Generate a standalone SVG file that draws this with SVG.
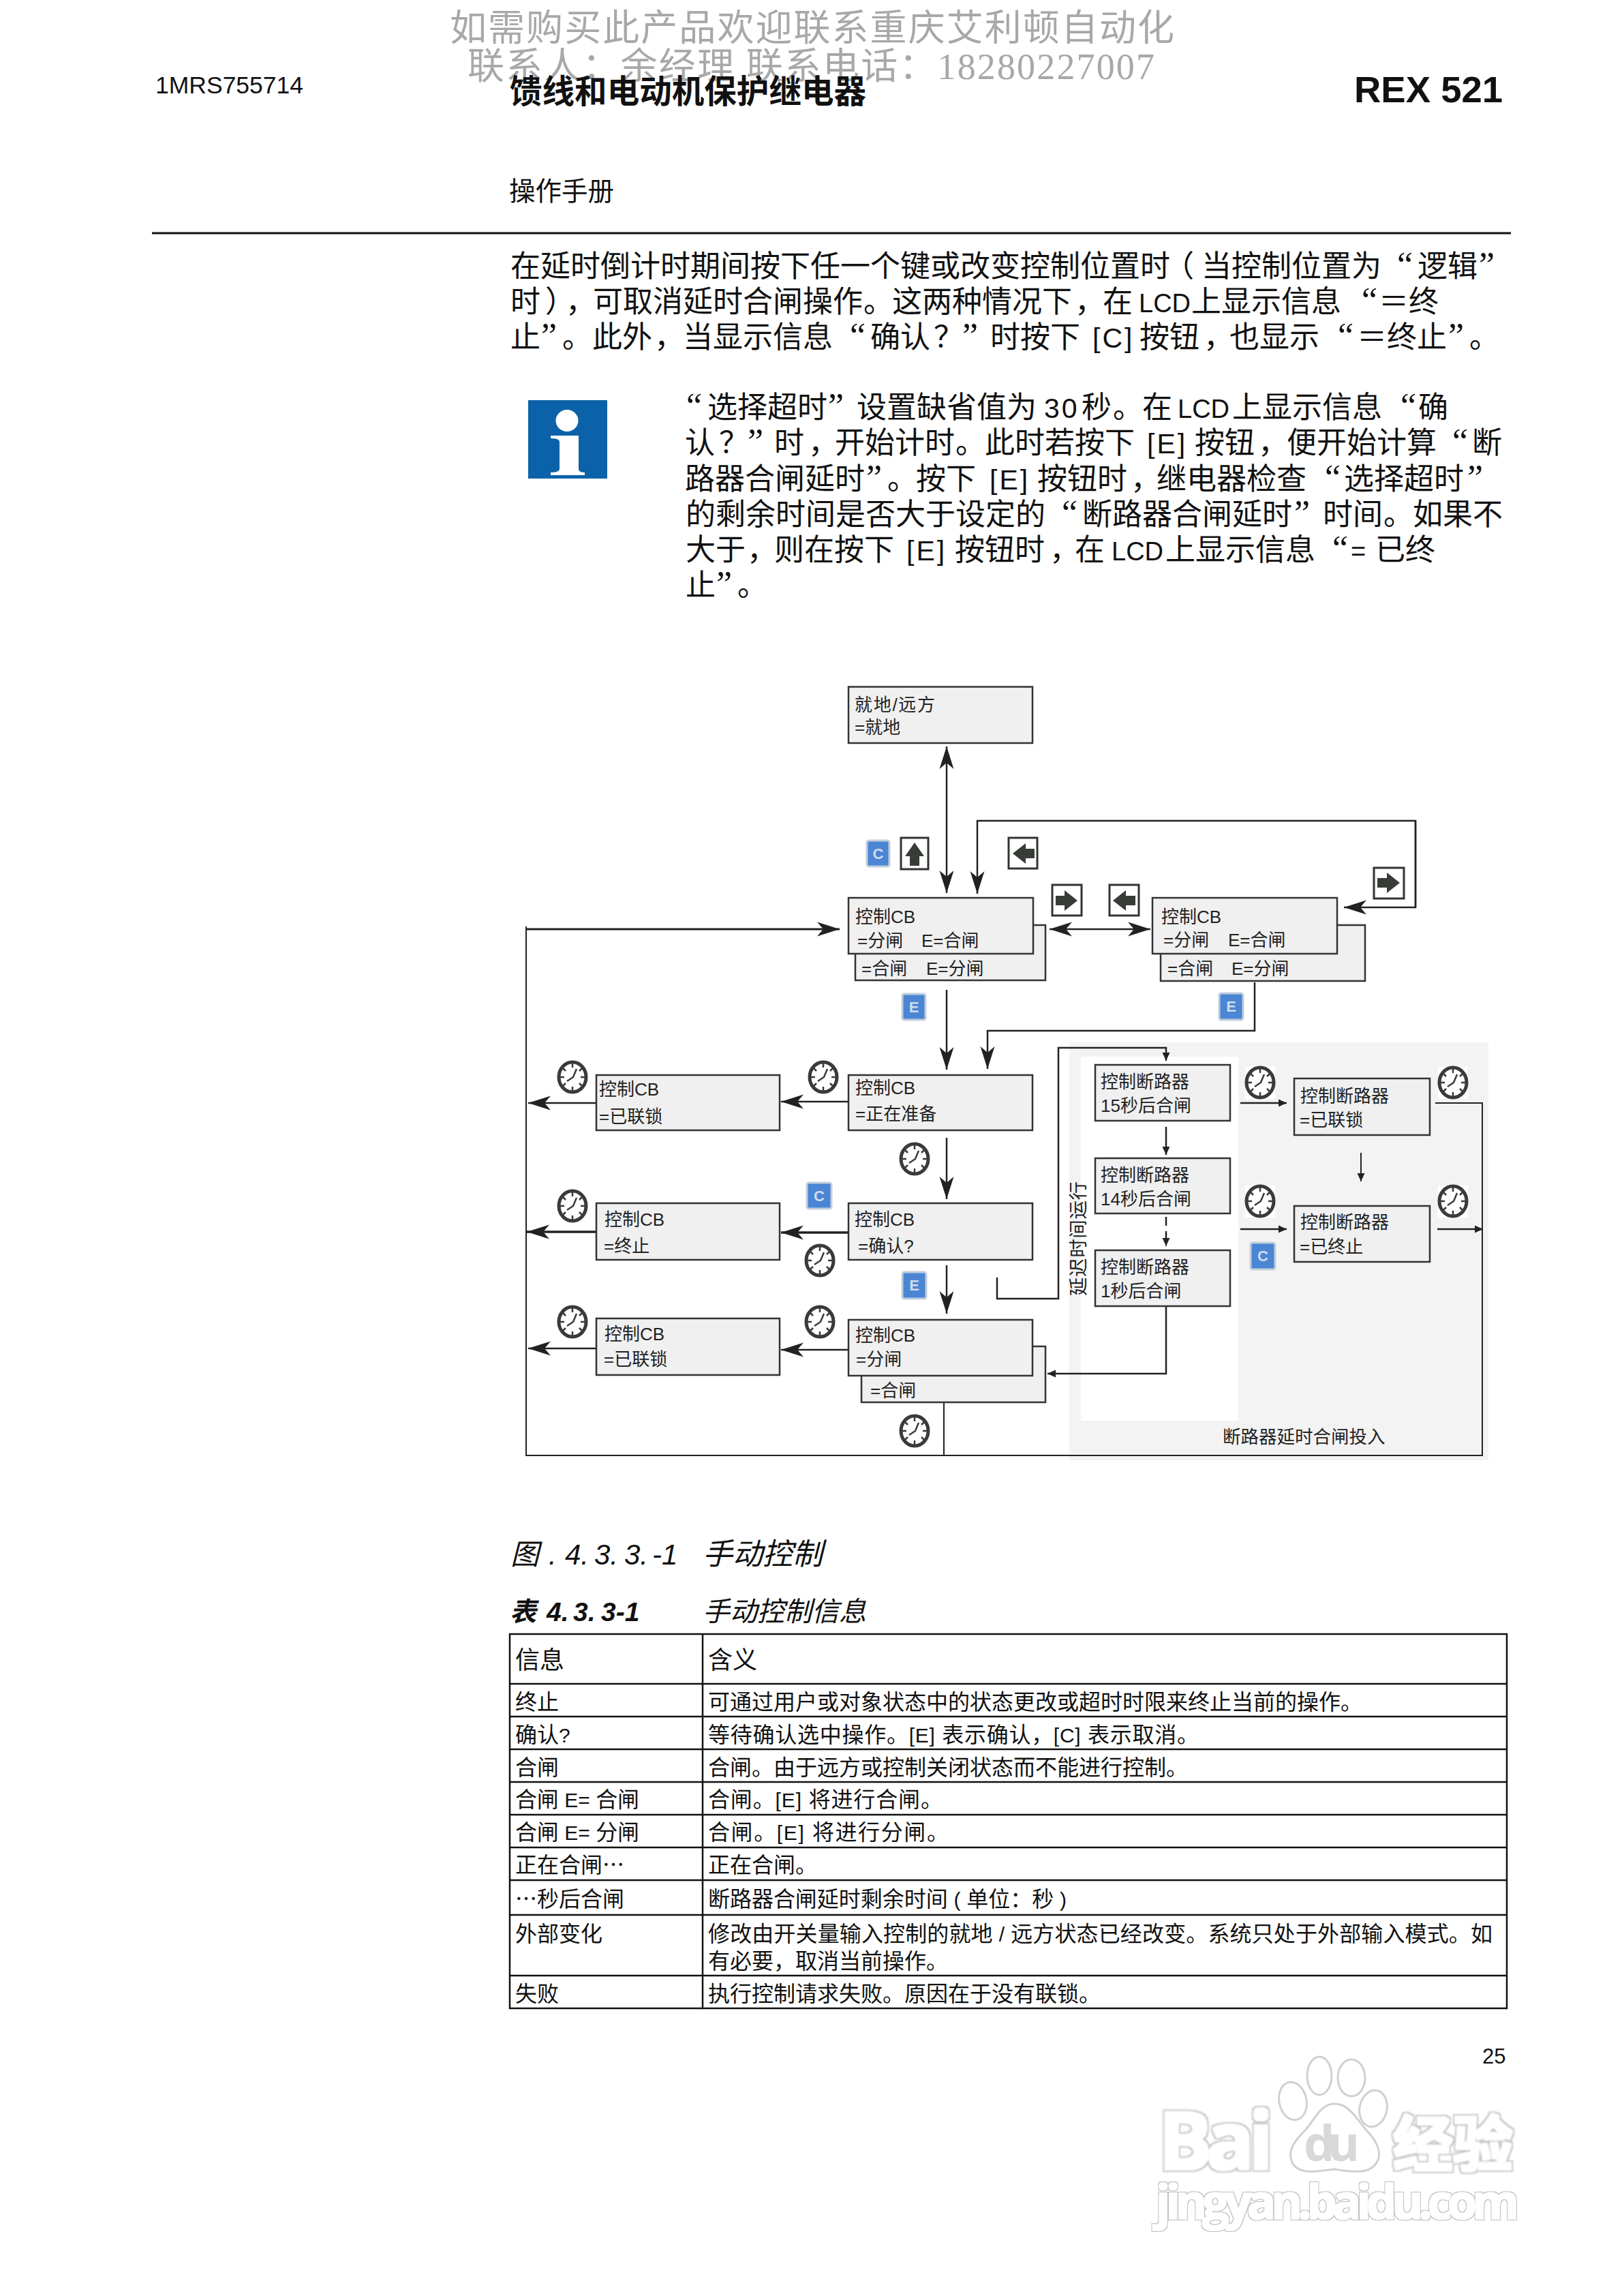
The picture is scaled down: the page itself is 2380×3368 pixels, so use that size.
<svg xmlns="http://www.w3.org/2000/svg" width="2380" height="3368" viewBox="0 0 2380 3368">
<style>
text{font-family:"Liberation Sans","Noto Sans CJK SC",sans-serif;fill:#111}
.wm{font-family:"Liberation Serif","Noto Sans CJK SC",serif;font-size:54px;fill:#a8a8a8}
.b{font-size:44px}
.b .q{font-family:"Liberation Serif",serif;font-size:52px}
.b .l{font-family:"Liberation Sans Narrow","Liberation Sans",sans-serif;font-size:38px}
.b .lb{font-family:"Liberation Sans Narrow","Liberation Sans",sans-serif;font-size:41px;letter-spacing:3px}
.b .p{font-feature-settings:"halt"}
.b .pa{font-feature-settings:"palt"}
.n{font-size:26px;fill:#222}
.t{font-size:32px}
.t .l{font-family:"Liberation Sans Narrow","Liberation Sans",sans-serif;font-size:30px}
.t .e{font-family:"Noto Sans CJK SC",sans-serif}
.h{font-size:36px}
.cap{font-style:italic;font-family:"Liberation Sans Narrow","Liberation Sans","Noto Sans CJK SC",sans-serif}
.box{fill:#f0f0f0;stroke:#333;stroke-width:2.5}
.c{fill:none;stroke:#222;stroke-width:2.5}
.thick{stroke-width:3.500}
.thin{stroke-width:2}
.big{marker-end:url(#ah)}
.dbl{marker-start:url(#ah);marker-end:url(#ah)}
.sm{marker-end:url(#as)}
.badge{fill:#4a86d4;stroke:#c2cedb;stroke-width:3}
.bl{font-size:22px;font-weight:bold;fill:#cfdcea;text-anchor:middle}
.key{fill:#fff;stroke:#333;stroke-width:3}
.ka{fill:#383c36}
.tb{stroke:#111;stroke-width:2.5;fill:none}
.logo{font-family:"Open Sans","Noto Sans CJK SC",sans-serif;font-weight:bold;fill:#fff}
.paw{fill:#fff;stroke:#d0d0d0;stroke-width:3}
</style>
<defs>
<marker id="ah" markerUnits="userSpaceOnUse" viewBox="-34 -12 36 24" refX="0" refY="0" markerWidth="36" markerHeight="24" orient="auto-start-reverse"><path d="M0 0L-33 -10.500L-24 0L-33 10.500Z" fill="#222"/></marker>
<marker id="as" markerUnits="userSpaceOnUse" viewBox="-13 -6 14 12" refX="0" refY="0" markerWidth="14" markerHeight="12" orient="auto"><path d="M0 0L-12 -5.500V5.500Z" fill="#222"/></marker>
<g id="clk">
<ellipse rx="20" ry="22" fill="#fff" stroke="#3a3a3a" stroke-width="5"/>
<path d="M0 -20V-14M0 20V14M-18 0H-12M18 0H12M-14 -13L-10 -9M14 -13L10 -9M-14 13L-10 9M14 13L10 9" stroke="#3a3a3a" stroke-width="2.500"/>
<path d="M-8 6L1 0L6 -12" fill="none" stroke="#3a3a3a" stroke-width="2.500"/>
</g>
<filter id="fat" x="-5%" y="-15%" width="110%" height="130%">
<feMorphology in="SourceAlpha" operator="dilate" radius="4" result="o"/>
<feFlood flood-color="#c4c4c4"/><feComposite in2="o" operator="in" result="og"/>
<feMorphology in="SourceAlpha" operator="dilate" radius="2" result="i"/>
<feFlood flood-color="#ffffff"/><feComposite in2="i" operator="in" result="iw"/>
<feMerge result="m"><feMergeNode in="og"/><feMergeNode in="iw"/></feMerge>
<feGaussianBlur in="m" stdDeviation="0.800"/>
</filter>
<filter id="fat2" x="-5%" y="-15%" width="110%" height="130%">
<feMorphology in="SourceAlpha" operator="dilate" radius="2" result="o"/>
<feFlood flood-color="#bdbdbd"/><feComposite in2="o" operator="in" result="og"/>
<feMorphology in="SourceAlpha" operator="dilate" radius="0.500" result="i"/>
<feFlood flood-color="#ffffff"/><feComposite in2="i" operator="in" result="iw"/>
<feMerge result="m"><feMergeNode in="og"/><feMergeNode in="iw"/></feMerge>
<feGaussianBlur in="m" stdDeviation="0.700"/>
</filter>
</defs>
<rect width="2380" height="3368" fill="#fff"/>

<g id="header">
<text class="wm" x="660" y="60" textLength="1063">如需购买此产品欢迎联系重庆艾利顿自动化</text>
<text class="wm" x="686" y="116" textLength="1008">联系人：余经理 联系电话：18280227007</text>
<text x="228" y="137" font-size="35.500">1MRS755714</text>
<text x="748" y="151" font-size="47.500" font-weight="bold" textLength="523">馈线和电动机保护继电器</text>
<text x="1987" y="150" font-size="54.500" font-weight="bold">REX 521</text>
<text x="747" y="294" font-size="38.500">操作手册</text>
<line x1="223" y1="342" x2="2217" y2="342" stroke="#111" stroke-width="3"/>
</g>

<g id="body">
<text class="b" y="406"><tspan x="749">在延时倒计时期间按下任一个键或改变控制位置时</tspan><tspan class="p" x="1730">（</tspan><tspan x="1763">当控制位置为</tspan><tspan class="q" x="2050">“</tspan><tspan x="2080">逻辑</tspan><tspan class="q" x="2170">”</tspan></text>
<text class="b" y="458"><tspan x="749">时</tspan><tspan class="p" x="800">）</tspan><tspan class="p" x="830">，</tspan><tspan x="870">可取消延时合闸操作</tspan><tspan class="p" x="1267">。</tspan><tspan x="1309">这两种情况下</tspan><tspan class="p" x="1577">，</tspan><tspan x="1618">在</tspan><tspan class="l" x="1671">LCD</tspan><tspan x="1748">上显示信息</tspan><tspan class="q" x="1998">“</tspan><tspan x="2023">＝</tspan><tspan x="2067">终</tspan></text>
<text class="b" y="510"><tspan x="749">止</tspan><tspan class="q" x="794">”</tspan><tspan class="p" x="825">。</tspan><tspan x="869">此外</tspan><tspan class="p" x="960">，</tspan><tspan x="1002">当显示信息</tspan><tspan class="q" x="1247">“</tspan><tspan x="1277">确认</tspan><tspan class="pa" x="1370">？</tspan><tspan class="q" x="1412">”</tspan><tspan x="1453">时按下</tspan><tspan class="lb" x="1603">[C]</tspan><tspan x="1672">按钮</tspan><tspan class="p" x="1766">，</tspan><tspan x="1804">也显示</tspan><tspan class="q" x="1963">“</tspan><tspan x="1991">＝</tspan><tspan x="2035">终止</tspan><tspan class="q" x="2125">”</tspan><tspan class="p" x="2156">。</tspan></text>
<text class="b" y="613"><tspan class="q" x="1007">“</tspan><tspan x="1038">选择超时</tspan><tspan class="q" x="1215">”</tspan><tspan x="1257">设置缺省值为</tspan><tspan class="l" x="1532" style="font-size:41px;letter-spacing:3px">30</tspan><tspan x="1587">秒</tspan><tspan class="p" x="1633">。</tspan><tspan x="1676">在</tspan><tspan class="l" x="1728">LCD</tspan><tspan x="1808">上显示信息</tspan><tspan class="q" x="2055">“</tspan><tspan x="2081">确</tspan></text>
<text class="b" y="665"><tspan x="1005">认</tspan><tspan class="pa" x="1055">？</tspan><tspan class="q" x="1097">”</tspan><tspan x="1136">时</tspan><tspan class="p" x="1186">，</tspan><tspan x="1225">开始计时</tspan><tspan class="p" x="1402">。</tspan><tspan x="1445">此时若按下</tspan><tspan class="lb" x="1683">[E]</tspan><tspan x="1753">按钮</tspan><tspan class="p" x="1846">，</tspan><tspan x="1888">便开始计算</tspan><tspan class="q" x="2131">“</tspan><tspan x="2160">断</tspan></text>
<text class="b" y="718"><tspan x="1005">路器合闸延时</tspan><tspan class="q" x="1271">”</tspan><tspan class="p" x="1302">。</tspan><tspan x="1344">按下</tspan><tspan class="lb" x="1452">[E]</tspan><tspan x="1522">按钮时</tspan><tspan class="p" x="1659">，</tspan><tspan x="1697">继电器检查</tspan><tspan class="q" x="1944">“</tspan><tspan x="1972">选择超时</tspan><tspan class="q" x="2153">”</tspan></text>
<text class="b" y="770"><tspan x="1006">的剩余时间是否大于设定的</tspan><tspan class="q" x="1558">“</tspan><tspan x="1588">断路器合闸延时</tspan><tspan class="q" x="1899">”</tspan><tspan x="1941">时间</tspan><tspan class="p" x="2030">。</tspan><tspan x="2073">如果不</tspan></text>
<text class="b" y="822"><tspan x="1006">大于</tspan><tspan class="p" x="1096">，</tspan><tspan x="1136">则在按下</tspan><tspan class="lb" x="1330">[E]</tspan><tspan x="1401">按钮时</tspan><tspan class="p" x="1540">，</tspan><tspan x="1577">在</tspan><tspan class="l" x="1631">LCD</tspan><tspan x="1710">上显示信息</tspan><tspan class="q" x="1955">“</tspan><tspan class="l" x="1982">=</tspan><tspan x="2018">已终</tspan></text>
<text class="b" y="874"><tspan x="1006">止</tspan><tspan class="q" x="1051">”</tspan><tspan class="p" x="1082">。</tspan></text>
</g>
<g id="info-icon">
<rect x="775" y="587" width="116" height="115" fill="#0b62a8"/>
<ellipse cx="832" cy="617" rx="16.500" ry="16" fill="#fff"/>
<path d="M808 639H849V688Q849 693 858 693V697H808V693Q821 693 821 688V648Q821 643 808 643Z" fill="#fff"/>
</g>

<g id="regions">
<rect x="1569" y="1529" width="615" height="613" fill="#f3f3f4"/>
<rect x="1586" y="1550" width="231" height="534" fill="#fff"/>
</g>

<g id="connectors">
<path class="c thin" d="M772 1359V2135H2175V1618H2106"/>
<path class="c big" style="stroke-width:3" d="M772 1363H1232"/>
<path class="c dbl" d="M1389 1095V1310"/>
<path class="c big" d="M2077 1331V1204H1434V1311"/>
<path class="c big" d="M2077 1204V1331H1972"/>
<path class="c dbl" d="M1540 1363H1688"/>
<path class="c big" d="M1389 1452V1569"/>
<path class="c big" d="M1841 1441V1512H1449V1568"/>
<path class="c big" d="M1245 1616H1146"/>
<path class="c big" d="M875 1618H775"/>
<path class="c big" d="M1389 1669V1759"/>
<path class="c thick big" d="M1245 1808H1146"/>
<path class="c thick big" d="M875 1807H773"/>
<path class="c big" d="M1389 1856V1927"/>
<path class="c big" d="M1245 1980H1146"/>
<path class="c big" d="M875 1978H775"/>
<path class="c thin" d="M1385 2057V2135"/>
<path class="c sm" d="M1463 1874V1905H1553V1537H1711V1556"/>
<path class="c sm" d="M1711 1653V1694"/>
<path class="c sm" d="M1711 1785V1828" stroke-dasharray="13 8"/>
<path class="c sm" d="M1711 1916V2015H1537"/>
<path class="c sm" d="M1820 1618H1888"/>
<path class="c sm" d="M1820 1803H1888"/>
<path class="c sm thin" d="M1997 1691V1733"/>
<path class="c sm" d="M2109 1803H2176"/>
</g>

<g id="n-local"><rect class="box" x="1245" y="1007.500" width="270" height="82.500"/><text class="n" x="1254" y="1043" textLength="118">就地/远方</text><text class="n" x="1254" y="1076">=就地</text></g>
<g id="n-cb1-back"><rect class="box" x="1255" y="1357" width="279" height="81"/><text class="n" x="1264" y="1430">=合闸</text><text class="n" x="1359" y="1430">E=分闸</text></g>
<g id="n-cb1"><rect class="box" x="1245" y="1317" width="271" height="82"/><text class="n" x="1255" y="1354">控制CB</text><text class="n" x="1258" y="1389">=分闸</text><text class="n" x="1352" y="1389">E=合闸</text></g>
<g id="n-cb2-back"><rect class="box" x="1703" y="1357" width="300" height="82"/><text class="n" x="1713" y="1430">=合闸</text><text class="n" x="1807" y="1430">E=分闸</text></g>
<g id="n-cb2"><rect class="box" x="1691" y="1317" width="271" height="82"/><text class="n" x="1704" y="1354">控制CB</text><text class="n" x="1707" y="1388">=分闸</text><text class="n" x="1802" y="1388">E=合闸</text></g>
<g id="n-prep"><rect class="box" x="1245" y="1577" width="270" height="81"/><text class="n" x="1255" y="1605">控制CB</text><text class="n" x="1255" y="1643">=正在准备</text></g>
<g id="n-int1"><rect class="box" x="875" y="1577" width="269" height="81"/><text class="n" x="879" y="1607">控制CB</text><text class="n" x="879" y="1647">=已联锁</text></g>
<g id="n-confirm"><rect class="box" x="1245" y="1765" width="270" height="83"/><text class="n" x="1254" y="1798">控制CB</text><text class="n" x="1259" y="1837">=确认?</text></g>
<g id="n-stop"><rect class="box" x="875" y="1765" width="269" height="83"/><text class="n" x="887" y="1798">控制CB</text><text class="n" x="886" y="1837">=终止</text></g>
<g id="n-open-back"><rect class="box" x="1264" y="1975" width="270" height="82"/><text class="n" x="1277" y="2049">=合闸</text></g>
<g id="n-open"><rect class="box" x="1245" y="1936" width="270" height="82"/><text class="n" x="1255" y="1968">控制CB</text><text class="n" x="1256" y="2003">=分闸</text></g>
<g id="n-int2"><rect class="box" x="875" y="1934" width="269" height="83"/><text class="n" x="887" y="1966">控制CB</text><text class="n" x="886" y="2003">=已联锁</text></g>
<g id="n-15s"><rect class="box" x="1607" y="1562" width="198" height="82"/><text class="n" x="1615" y="1596">控制断路器</text><text class="n" x="1615" y="1631">15秒后合闸</text></g>
<g id="n-14s"><rect class="box" x="1607" y="1699" width="198" height="81"/><text class="n" x="1615" y="1733">控制断路器</text><text class="n" x="1615" y="1768">14秒后合闸</text></g>
<g id="n-1s"><rect class="box" x="1607" y="1834" width="198" height="82"/><text class="n" x="1615" y="1868">控制断路器</text><text class="n" x="1615" y="1903">1秒后合闸</text></g>
<g id="n-d-int"><rect class="box" x="1899" y="1582" width="199" height="83"/><text class="n" x="1908" y="1617">控制断路器</text><text class="n" x="1907" y="1652">=已联锁</text></g>
<g id="n-d-stop"><rect class="box" x="1899" y="1769" width="199" height="82"/><text class="n" x="1908" y="1802">控制断路器</text><text class="n" x="1907" y="1838">=已终止</text></g>

<g id="keys">
<g id="key-c1"><rect class="badge" x="1272" y="1233" width="33" height="38" rx="3"/><text class="bl" x="1288.500" y="1260">C</text></g>
<g id="key-up"><rect class="key" x="1322" y="1229" width="40" height="46"/><path class="ka" d="M1342 1236L1356 1256H1349V1270H1335V1256H1328Z"/></g>
<g id="key-left1"><rect class="key" x="1480" y="1229" width="42" height="45"/><path class="ka" d="M1486 1252L1505 1237V1245H1518V1259H1505V1267Z"/></g>
<g id="key-right1"><rect class="key" x="1544" y="1298" width="43" height="45"/><path class="ka" d="M1581 1321L1562 1306V1314H1549V1328H1562V1336Z"/></g>
<g id="key-left2"><rect class="key" x="1628" y="1298" width="43" height="45"/><path class="ka" d="M1633 1321L1652 1306V1314H1666V1328H1652V1336Z"/></g>
<g id="key-right2"><rect class="key" x="2016" y="1273" width="44" height="45"/><path class="ka" d="M2054 1295L2035 1280V1288H2021V1302H2035V1310Z"/></g>
<g id="key-e1"><rect class="badge" x="1324" y="1458" width="34" height="38" rx="3"/><text class="bl" x="1341" y="1485">E</text></g>
<g id="key-e2"><rect class="badge" x="1789" y="1457" width="35" height="39" rx="3"/><text class="bl" x="1806.500" y="1484">E</text></g>
<g id="key-c2"><rect class="badge" x="1184" y="1735" width="36" height="38" rx="3"/><text class="bl" x="1202" y="1762">C</text></g>
<g id="key-e3"><rect class="badge" x="1324" y="1866" width="35" height="39" rx="3"/><text class="bl" x="1341.500" y="1893">E</text></g>
<g id="key-c3"><rect class="badge" x="1835" y="1823" width="36" height="39" rx="3"/><text class="bl" x="1853" y="1850">C</text></g>
</g>

<g id="clocks">
<use href="#clk" x="840" y="1580"/>
<use href="#clk" x="1208" y="1580"/>
<use href="#clk" x="1342" y="1700"/>
<use href="#clk" x="840" y="1769"/>
<use href="#clk" x="1203" y="1849"/>
<use href="#clk" x="840" y="1939"/>
<use href="#clk" x="1203" y="1939"/>
<use href="#clk" x="1342" y="2099"/>
<rect x="1827" y="1565" width="44" height="47" fill="#fff"/><use href="#clk" x="1849" y="1588"/>
<rect x="1827" y="1739" width="44" height="47" fill="#fff"/><use href="#clk" x="1849" y="1762"/>
<rect x="2110" y="1565" width="44" height="47" fill="#fff"/><use href="#clk" x="2132" y="1588"/>
<rect x="2110" y="1739" width="44" height="47" fill="#fff"/><use href="#clk" x="2132" y="1762"/>
</g>

<g id="region-labels">
<text class="n" x="1794" y="2117" style="font-size:26.500px">断路器延时合闸投入</text>
<text class="n" transform="translate(1592 1901) rotate(-90)" style="font-size:27.500px" textLength="168">延迟时间运行</text>
</g>

<g id="captions">
<text class="cap" y="2295" font-size="42"><tspan x="749">图</tspan><tspan x="805">.</tspan><tspan x="829">4.</tspan><tspan x="872">3.</tspan><tspan x="916">3.</tspan><tspan x="957">-1</tspan></text>
<text x="1031" y="2295" font-size="44" font-style="italic">手动控制</text>
<text class="cap" y="2378" font-size="39" font-weight="bold"><tspan x="748">表</tspan><tspan x="802">4.</tspan><tspan x="841">3.</tspan><tspan x="882">3-1</tspan></text>
<text x="1031" y="2378" font-size="40" font-style="italic">手动控制信息</text>
</g>

<g id="table">
<rect class="tb" x="748" y="2397" width="1463" height="549"/>
<path class="tb" d="M1031 2397V2946M748 2470H2211M748 2518H2211M748 2566H2211M748 2614H2211M748 2662H2211M748 2710H2211M748 2758H2211M748 2809H2211M748 2898H2211"/>
<text class="h" x="756" y="2448">信息</text><text class="h" x="1039" y="2448">含义</text>
<text class="t" x="756" y="2508">终止</text><text class="t" x="1039" y="2508">可通过用户或对象状态中的状态更改或超时时限来终止当前的操作。</text>
<text class="t" x="756" y="2556">确认<tspan class="l">?</tspan></text><text class="t" x="1039" y="2556" textLength="720">等待确认选中操作。<tspan class="l">[E]</tspan> 表示确认，<tspan class="l">[C]</tspan> 表示取消。</text>
<text class="t" x="756" y="2604">合闸</text><text class="t" x="1039" y="2604">合闸。由于远方或控制关闭状态而不能进行控制。</text>
<text class="t" x="756" y="2651" textLength="182">合闸 <tspan class="l">E=</tspan> 合闸</text><text class="t" x="1039" y="2651" textLength="344">合闸。<tspan class="l">[E]</tspan> 将进行合闸。</text>
<text class="t" x="756" y="2699" textLength="182">合闸 <tspan class="l">E=</tspan> 分闸</text><text class="t" x="1039" y="2699" textLength="353">合闸。<tspan class="l">[E]</tspan> 将进行分闸。</text>
<text class="t" x="756" y="2747">正在合闸<tspan class="e">…</tspan></text><text class="t" x="1039" y="2747">正在合闸。</text>
<text class="t" x="756" y="2797"><tspan class="e">…</tspan>秒后合闸</text><text class="t" x="1039" y="2797" textLength="526">断路器合闸延时剩余时间 <tspan class="l">(</tspan> 单位：秒 <tspan class="l">)</tspan></text>
<text class="t" x="756" y="2848">外部变化</text><text class="t" x="1039" y="2848" textLength="1151">修改由开关量输入控制的就地 <tspan class="l">/</tspan> 远方状态已经改变。系统只处于外部输入模式。如</text>
<text class="t" x="1039" y="2888">有必要，取消当前操作。</text>
<text class="t" x="756" y="2936">失败</text><text class="t" x="1039" y="2936">执行控制请求失败。原因在于没有联锁。</text>
</g>

<text id="page-no" x="2175" y="3027" font-size="31">25</text>

<g id="baidu-mark">
<ellipse class="paw" cx="1897" cy="3082" rx="20" ry="28" transform="rotate(-12 1897 3082)"/>
<ellipse class="paw" cx="1936" cy="3045" rx="18" ry="28"/>
<ellipse class="paw" cx="1983" cy="3048" rx="20" ry="27"/>
<ellipse class="paw" cx="2015" cy="3093" rx="20" ry="27" transform="rotate(12 2015 3093)"/>
<path class="paw" d="M1958 3086C1980 3086 1992 3110 2005 3125C2022 3142 2028 3160 2020 3172C2010 3190 1985 3186 1958 3182C1930 3186 1905 3190 1896 3172C1888 3155 1900 3140 1915 3125C1930 3108 1938 3086 1958 3086Z"/>
<text class="logo" x="1700" y="3182" font-size="116" textLength="168" filter="url(#fat)">Bai</text>
<text x="1913" y="3170" font-size="72" font-weight="bold" style="fill:#d8d8d8;font-family:'Open Sans',sans-serif" textLength="82">du</text>
<text class="logo" x="2044" y="3177" font-size="88" textLength="176" filter="url(#fat)">经验</text>
<text class="logo" x="1696" y="3255" font-size="70" textLength="533" filter="url(#fat2)">jingyan.baidu.com</text>
</g>
</svg>
